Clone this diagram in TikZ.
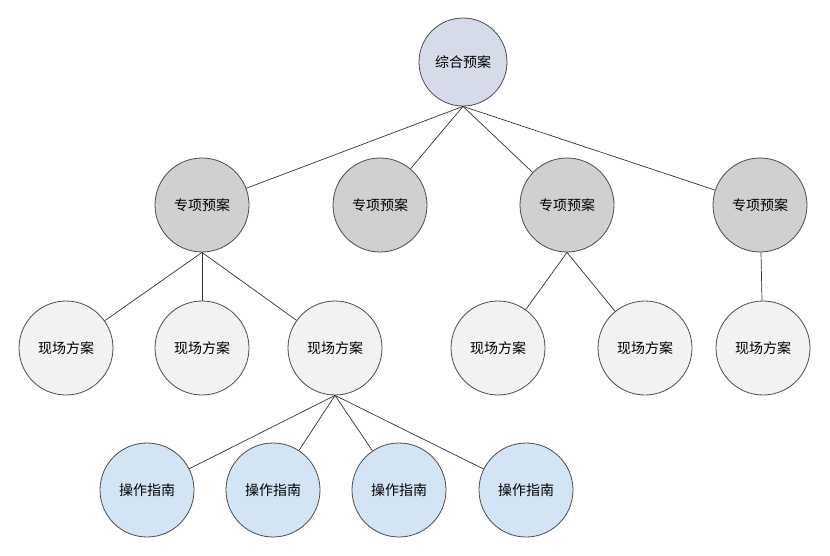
\documentclass[tikz,border=0pt]{standalone}
\usepackage{fontspec}
\setmainfont{Noto Sans CJK SC}
\definecolor{topfill}{HTML}{D5DBE8}
\definecolor{midfill}{HTML}{D0D0D0}
\definecolor{lowfill}{HTML}{F2F2F2}
\definecolor{opfill}{HTML}{D3E5F5}
\tikzset{
  plan/.style={circle, draw=black!70, line width=0.8pt, minimum size=94pt, inner sep=0pt, font=\fontsize{14}{16}\selectfont},
  link/.style={draw=black!80, line width=0.7pt}
}
\begin{document}
\begin{tikzpicture}[x=1pt,y=-1pt]
\useasboundingbox (0,0) rectangle (830,556);
% top level
\node [plan, fill=topfill, minimum size=88pt] (zh) at (463,62) {综合预案};
% special plans
\node [plan, fill=midfill] (zx1) at (202,205) {专项预案};
\node [plan, fill=midfill] (zx2) at (380,205) {专项预案};
\node [plan, fill=midfill] (zx3) at (567,205) {专项预案};
\node [plan, fill=midfill] (zx4) at (760,205) {专项预案};
% site plans
\node [plan, fill=lowfill] (xc1) at (66,348) {现场方案};
\node [plan, fill=lowfill] (xc2) at (202,348) {现场方案};
\node [plan, fill=lowfill] (xc3) at (335,348) {现场方案};
\node [plan, fill=lowfill] (xc4) at (498,348) {现场方案};
\node [plan, fill=lowfill] (xc5) at (645,348) {现场方案};
\node [plan, fill=lowfill] (xc6) at (763,348) {现场方案};
% operation guides
\node [plan, fill=opfill] (cz1) at (147,490) {操作指南};
\node [plan, fill=opfill] (cz2) at (273,490) {操作指南};
\node [plan, fill=opfill] (cz3) at (399,490) {操作指南};
\node [plan, fill=opfill] (cz4) at (526,490) {操作指南};
% connectors
\foreach \c in {zx1,zx2,zx3,zx4} \draw [link] (zh.south) -- (\c);
\foreach \c in {xc1,xc2,xc3} \draw [link] (zx1.south) -- (\c);
\foreach \c in {xc4,xc5} \draw [link] (zx3.south) -- (\c);
\draw [link] (zx4) -- (xc6);
\foreach \c in {cz1,cz2,cz3,cz4} \draw [link] (xc3.south) -- (\c);
\end{tikzpicture}
\end{document}
